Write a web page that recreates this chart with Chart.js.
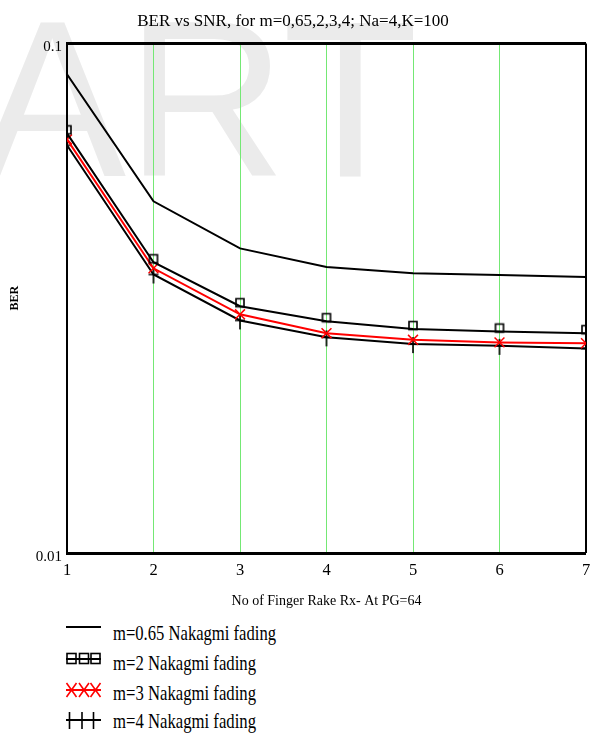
<!DOCTYPE html>
<html>
<head>
<meta charset="utf-8">
<title>BER vs SNR</title>
<script src="https://cdn.jsdelivr.net/npm/chart.js@4/dist/chart.umd.min.js"></script>
<style>
  html, body { margin: 0; padding: 0; background: #fff; }
  #wrap { position: relative; width: 600px; height: 736px; overflow: hidden; }
  #c { position: absolute; left: 0; top: 0; }
  #legend { position: absolute; left: 0; top: 612px; }
</style>
</head>
<body>
<div id="wrap">
  <canvas id="c" width="600" height="612"></canvas>
  <svg id="legend" width="600" height="124" xmlns="http://www.w3.org/2000/svg"></svg>
</div>
<script>
// Number of rake fingers (x axis)
const fingers = [1, 2, 3, 4, 5, 6, 7];

// Bit error rate per Nakagami fading parameter
const berM065 = [0.0870, 0.0490, 0.0396, 0.0364, 0.0354, 0.0351, 0.0348];
const berM2   = [0.0666, 0.0372, 0.0305, 0.0285, 0.0275, 0.0272, 0.0270];
const berM3   = [0.0648, 0.0362, 0.0294, 0.0270, 0.0262, 0.0259, 0.0258];
const berM4   = [0.0631, 0.0352, 0.0286, 0.0265, 0.0257, 0.0255, 0.0252];

const seriesLabels = [
  'm=0.65 Nakagmi fading',
  'm=2 Nakagmi fading',
  'm=3 Nakagmi fading',
  'm=4 Nakagmi fading'
];

// Decade ticks on the log axis
const yTickValues = [0.01, 0.1];

const SERIF = '"Liberation Serif", "Times New Roman", serif';
const GRID_GREEN = '#74e874';

function toPoints(ys) {
  return fingers.map((x, i) => ({ x: x, y: ys[i] }));
}

// Square marker sitting just above its point
function boxMarker() {
  const c = document.createElement('canvas');
  c.width = 14; c.height = 28;
  const g = c.getContext('2d');
  g.strokeStyle = '#000';
  g.lineWidth = 1.6;
  g.strokeRect(3, 6.5, 8, 8);
  return c;
}

// Plus marker with a longer lower arm
function plusMarker() {
  const c = document.createElement('canvas');
  c.width = 14; c.height = 36;
  const g = c.getContext('2d');
  g.strokeStyle = '#000';
  g.lineWidth = 1.6;
  g.beginPath();
  g.moveTo(7, 11); g.lineTo(7, 27);
  g.moveTo(2, 18); g.lineTo(12, 18);
  g.stroke();
  return c;
}

// Faint lettering behind the plot
const watermark = {
  id: 'watermark',
  beforeDraw(chart) {
    const ctx = chart.ctx;
    ctx.save();
    ctx.fillStyle = '#ebebeb';
    ctx.font = '222px "Liberation Sans", Arial, sans-serif';
    ctx.textBaseline = 'alphabetic';
    ctx.fillText('ART', -22, 176);
    ctx.restore();
  }
};

const datasets = [
  {
    label: seriesLabels[0],
    data: toPoints(berM065),
    borderColor: '#000',
    borderWidth: 2,
    pointRadius: 0,
    tension: 0,
    clip: 0
  },
  {
    label: seriesLabels[1],
    data: toPoints(berM2),
    borderColor: '#000',
    borderWidth: 2,
    pointStyle: boxMarker(),
    pointRadius: 5,
    tension: 0,
    clip: 0
  },
  {
    label: seriesLabels[2],
    data: toPoints(berM3),
    borderColor: '#ff0000',
    borderWidth: 2,
    pointStyle: 'crossRot',
    pointRadius: 7,
    pointBorderColor: '#ff0000',
    pointBorderWidth: 1.5,
    tension: 0,
    clip: 0
  },
  {
    label: seriesLabels[3],
    data: toPoints(berM4),
    borderColor: '#000',
    borderWidth: 2,
    pointStyle: plusMarker(),
    pointRadius: 5,
    tension: 0,
    clip: 0
  }
];

const chart = new Chart(document.getElementById('c'), {
  type: 'line',
  data: { datasets: datasets },
  plugins: [watermark],
  options: {
    responsive: false,
    animation: false,
    events: [],
    layout: { padding: { left: 0, right: 14, top: 0, bottom: 0 } },
    plugins: {
      legend: { display: false },
      tooltip: { enabled: false },
      title: {
        display: true,
        text: 'BER vs SNR, for m=0,65,2,3,4; Na=4,K=100',
        color: '#000',
        font: { family: SERIF, size: 17, weight: 'normal' },
        padding: { top: 11, bottom: 12 }
      }
    },
    scales: {
      x: {
        type: 'linear',
        min: 1,
        max: 7,
        afterFit(scale) { scale.height = 59; },
        ticks: {
          stepSize: 1,
          color: '#000',
          font: { family: SERIF, size: 16.5 },
          padding: 8
        },
        grid: {
          drawTicks: false,
          color: (ctx) => ctx.index === 0 ? 'rgba(0,0,0,0)' : (ctx.index === fingers.length - 1 ? '#000' : GRID_GREEN),
          lineWidth: (ctx) => ctx.index === fingers.length - 1 ? 2 : 1
        },
        border: { display: false },
        title: {
          display: true,
          text: 'No of Finger Rake Rx- At PG=64',
          color: '#000',
          font: { family: SERIF, size: 14 },
          padding: { top: 0, bottom: 2 }
        }
      },
      y: {
        type: 'logarithmic',
        min: 0.01,
        max: 0.1,
        afterFit(scale) { scale.width = 67; },
        afterBuildTicks(scale) {
          scale.ticks = yTickValues.map(v => ({ value: v }));
        },
        ticks: {
          color: '#000',
          font: { family: SERIF, size: 15 },
          padding: 5,
          labelOffset: 4,
          callback: (v) => String(v)
        },
        grid: { color: '#000', lineWidth: 3, drawTicks: false },
        border: { display: true, color: '#000', width: 2 },
        title: {
          display: true,
          text: 'BER',
          color: '#000',
          font: { family: SERIF, size: 12, weight: 'bold' },
          padding: { top: 8, bottom: 0 }
        }
      }
    }
  }
});

// Legend: one row per series, sample stroke plus three markers, then the label
(function buildLegend() {
  const NS = 'http://www.w3.org/2000/svg';
  const svg = document.getElementById('legend');
  const rows = [
    { line: 15, base: 28, width: 163, marker: null },
    { line: 47, base: 58, width: 143, marker: 'box' },
    { line: 78, base: 88, width: 143, marker: 'star' },
    { line: 108, base: 116, width: 143, marker: 'plus' }
  ];
  const el = (name, attrs) => {
    const n = document.createElementNS(NS, name);
    for (const k in attrs) n.setAttribute(k, attrs[k]);
    svg.appendChild(n);
    return n;
  };
  rows.forEach((r, i) => {
    const color = datasets[i].borderColor;
    el('line', { x1: 66, y1: r.line, x2: 101, y2: r.line, stroke: color, 'stroke-width': 2 });
    const centres = [71.5, 84, 95.5];
    centres.forEach(cx => {
      if (r.marker === 'box') {
        el('rect', { x: cx - 4.5, y: r.line - 5.5, width: 9, height: 10, fill: 'none', stroke: color, 'stroke-width': 1.6 });
      } else if (r.marker === 'star') {
        el('path', {
          d: `M${cx - 5},${r.line - 7} L${cx + 5},${r.line + 7} M${cx + 5},${r.line - 7} L${cx - 5},${r.line + 7}`,
          stroke: color, 'stroke-width': 1.6, fill: 'none'
        });
      } else if (r.marker === 'plus') {
        el('line', { x1: cx - 2, y1: r.line - 8, x2: cx - 2, y2: r.line + 9, stroke: color, 'stroke-width': 1.6 });
      }
    });
    const t = el('text', {
      x: 113, y: r.base,
      'font-family': 'Liberation Serif, Times New Roman, serif',
      'font-size': 21,
      fill: '#000',
      textLength: r.width,
      lengthAdjust: 'spacingAndGlyphs'
    });
    t.textContent = seriesLabels[i];
  });
})();
</script>
</body>
</html>
